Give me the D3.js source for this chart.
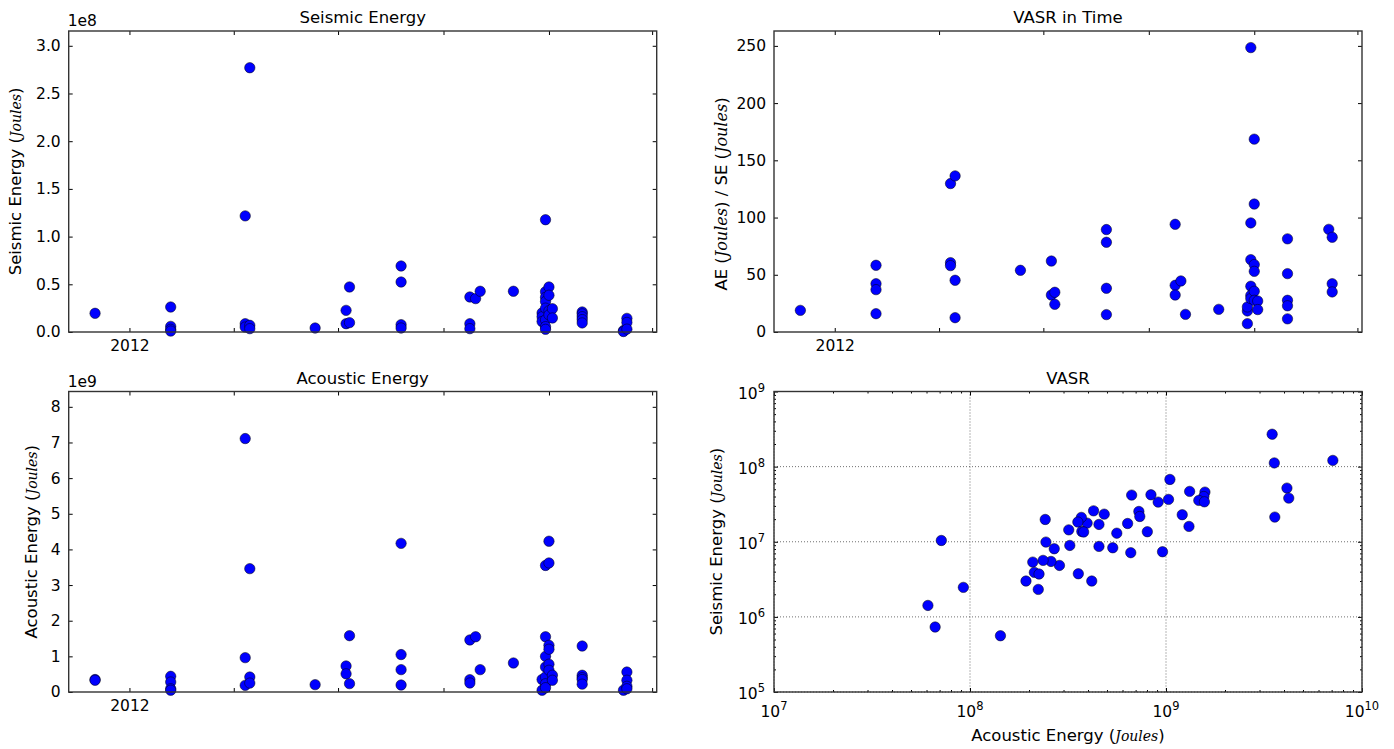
<!DOCTYPE html>
<meta charset="utf-8">
<script src="https://cdn.jsdelivr.net/npm/d3@7/dist/d3.min.js"></script>
<style>
  body { margin: 0; background: #fff; }
  svg text { font-family: "DejaVu Sans", sans-serif; fill: #000; }
</style>
<svg width="1394" height="749"></svg>
<script>
// ---- data ----
// x ticks of the date axes (only the first one carries a label)
var dateTicks = ["2012-01-01", "2012-04-01", "2012-07-01", "2012-10-01", "2013-01-01", "2013-04-01"];
var dateTickLabels = ["2012", "", "", "", "", ""];

// Seismic Energy (J) per event date
var seismicEnergy = [
  ["2011-12-02", 1.96e7],
  ["2012-02-06", 2.62e7], ["2012-02-06", 5.9e6], ["2012-02-06", 2.8e6], ["2012-02-06", 1.0e6],
  ["2012-04-11", 1.217e8], ["2012-04-11", 8.7e6], ["2012-04-11", 5.2e6],
  ["2012-04-15", 2.77e8], ["2012-04-15", 7.0e6], ["2012-04-15", 3.5e6],
  ["2012-06-11", 4.2e6],
  ["2012-07-08", 2.27e7], ["2012-07-08", 8.7e6],
  ["2012-07-11", 4.72e7], ["2012-07-11", 9.8e6],
  ["2012-08-25", 6.92e7], ["2012-08-25", 5.24e7], ["2012-08-25", 7.7e6], ["2012-08-25", 4.2e6],
  ["2012-10-24", 3.67e7], ["2012-10-24", 8.7e6], ["2012-10-24", 3.5e6],
  ["2012-10-29", 3.5e7],
  ["2012-11-02", 4.27e7],
  ["2012-12-01", 4.27e7],
  ["2012-12-26", 2.0e7], ["2012-12-26", 1.6e7], ["2012-12-26", 1.1e7],
  ["2012-12-29", 1.177e8], ["2012-12-29", 4.22e7], ["2012-12-29", 3.64e7], ["2012-12-29", 3.2e7],
  ["2012-12-29", 2.5e7], ["2012-12-29", 1.27e7], ["2012-12-29", 5.6e6], ["2012-12-29", 2.8e6],
  ["2013-01-01", 4.72e7], ["2013-01-01", 3.85e7], ["2013-01-01", 2.23e7], ["2013-01-01", 1.8e7],
  ["2013-01-04", 2.44e7], ["2013-01-04", 1.47e7],
  ["2013-01-30", 2.1e7], ["2013-01-30", 1.9e7], ["2013-01-30", 1.6e7], ["2013-01-30", 1.3e7], ["2013-01-30", 9.5e6],
  ["2013-03-07", 1.5e6], ["2013-03-07", 5e5],
  ["2013-03-10", 1.43e7], ["2013-03-10", 1.0e7], ["2013-03-10", 3e6]
];
var seismicTicks = [0, 0.5e8, 1.0e8, 1.5e8, 2.0e8, 2.5e8, 3.0e8];
var seismicTickLabels = ["0.0", "0.5", "1.0", "1.5", "2.0", "2.5", "3.0"];

// Acoustic Energy (J) per event date
var acousticEnergy = [
  ["2011-12-02", 3.5e8], ["2011-12-02", 3.3e8],
  ["2012-02-06", 4.4e8], ["2012-02-06", 2.8e8], ["2012-02-06", 9e7], ["2012-02-06", 5e7],
  ["2012-04-11", 7.11e9], ["2012-04-11", 9.63e8], ["2012-04-11", 1.87e8],
  ["2012-04-15", 3.46e9], ["2012-04-15", 4.2e8], ["2012-04-15", 2.5e8],
  ["2012-06-11", 2.06e8],
  ["2012-07-08", 7.3e8], ["2012-07-08", 5.1e8],
  ["2012-07-11", 1.58e9], ["2012-07-11", 2.34e8],
  ["2012-08-25", 4.17e9], ["2012-08-25", 1.05e9], ["2012-08-25", 6.27e8], ["2012-08-25", 1.96e8],
  ["2012-10-24", 1.46e9], ["2012-10-24", 3.46e8], ["2012-10-24", 2.53e8],
  ["2012-10-29", 1.55e9],
  ["2012-11-02", 6.27e8],
  ["2012-12-01", 8.14e8],
  ["2012-12-26", 3.5e8], ["2012-12-26", 5e7],
  ["2012-12-29", 3.55e9], ["2012-12-29", 1.55e9], ["2012-12-29", 1.0e9], ["2012-12-29", 7.0e8],
  ["2012-12-29", 4.2e8], ["2012-12-29", 2.3e8], ["2012-12-29", 1.2e8],
  ["2013-01-01", 4.23e9], ["2013-01-01", 3.62e9], ["2013-01-01", 1.31e9], ["2013-01-01", 1.2e9],
  ["2013-01-01", 7.8e8], ["2013-01-01", 6.1e8],
  ["2013-01-04", 4.7e8], ["2013-01-04", 3.3e8],
  ["2013-01-30", 1.29e9], ["2013-01-30", 4.7e8], ["2013-01-30", 4.0e8], ["2013-01-30", 3.5e8], ["2013-01-30", 2.2e8],
  ["2013-03-07", 5e7],
  ["2013-03-10", 5.6e8], ["2013-03-10", 3.3e8], ["2013-03-10", 1.6e8], ["2013-03-10", 9e7]
];
var acousticTicks = [0, 1e9, 2e9, 3e9, 4e9, 5e9, 6e9, 7e9, 8e9];
var acousticTickLabels = ["0", "1", "2", "3", "4", "5", "6", "7", "8"];

// VASR = AE / SE per event date
var vasrTime = [
  ["2011-12-02", 18.9],
  ["2012-02-06", 58.3], ["2012-02-06", 42.2], ["2012-02-06", 37], ["2012-02-06", 16],
  ["2012-04-11", 129.7], ["2012-04-11", 60.6], ["2012-04-11", 58],
  ["2012-04-15", 136.4], ["2012-04-15", 45.2], ["2012-04-15", 12.5],
  ["2012-06-11", 53.9],
  ["2012-07-08", 62], ["2012-07-08", 32.3],
  ["2012-07-11", 34.7], ["2012-07-11", 24.2],
  ["2012-08-25", 89.5], ["2012-08-25", 78.4], ["2012-08-25", 38.2], ["2012-08-25", 15.2],
  ["2012-10-24", 94.1], ["2012-10-24", 40.8], ["2012-10-24", 32.3],
  ["2012-10-29", 44.6],
  ["2012-11-02", 15.4],
  ["2012-12-01", 19.8],
  ["2012-12-26", 7.3], ["2012-12-26", 18.4], ["2012-12-26", 21.9],
  ["2012-12-29", 248.5], ["2012-12-29", 95.3], ["2012-12-29", 63.2], ["2012-12-29", 40],
  ["2012-12-29", 32], ["2012-12-29", 29.2],
  ["2013-01-01", 168.5], ["2013-01-01", 111.8], ["2013-01-01", 58.9], ["2013-01-01", 53],
  ["2013-01-01", 35.6], ["2013-01-01", 27.7],
  ["2013-01-04", 27.1], ["2013-01-04", 19.6],
  ["2013-01-30", 81.4], ["2013-01-30", 51], ["2013-01-30", 27.7], ["2013-01-30", 22.9], ["2013-01-30", 11.5],
  ["2013-03-07", 89.7],
  ["2013-03-10", 82.8], ["2013-03-10", 42.2], ["2013-03-10", 35]
];
var vasrTicks = [0, 50, 100, 150, 200, 250];

// VASR scatter: [acoustic energy, seismic energy] in J
var vasrPairs = [
  [3.48e9, 2.7e8], [3.57e9, 1.12e8], [7.1e9, 1.21e8], [4.14e9, 5.18e7], [4.23e9, 3.81e7], [3.59e9, 2.13e7],
  [1.047e9, 6.75e7], [1.03e9, 3.66e7], [1.32e9, 4.68e7], [1.58e9, 4.58e7], [1.56e9, 4.0e7], [1.47e9, 3.55e7],
  [1.57e9, 3.4e7], [1.21e9, 2.29e7], [1.31e9, 1.6e7], [9.6e8, 7.36e6], [9.12e8, 3.37e7], [8.38e8, 4.22e7],
  [6.68e8, 4.18e7], [7.27e8, 2.53e7], [7.35e8, 2.17e7], [6.37e8, 1.75e7], [8.03e8, 1.36e7], [6.61e8, 7.15e6],
  [5.35e8, 8.32e6], [5.61e8, 1.3e7], [4.84e8, 2.33e7], [4.27e8, 2.58e7], [4.55e8, 1.7e7], [4.55e8, 8.67e6],
  [3.96e8, 1.77e7], [3.7e8, 2.11e7], [3.55e8, 1.83e7], [3.72e8, 1.37e7], [3.8e8, 1.35e7], [3.19e8, 1.44e7],
  [3.23e8, 8.93e6], [3.57e8, 3.75e6], [4.18e8, 3.0e6], [2.42e8, 1.98e7], [2.44e8, 9.9e6], [2.69e8, 8.07e6],
  [2.86e8, 4.84e6], [2.59e8, 5.47e6], [2.36e8, 5.65e6], [2.09e8, 5.36e6], [2.13e8, 3.91e6], [2.25e8, 3.72e6],
  [1.93e8, 3.0e6], [2.23e8, 2.32e6], [9.25e7, 2.47e6], [7.14e7, 1.04e7], [6.1e7, 1.42e6], [6.64e7, 7.33e5],
  [1.43e8, 5.61e5]
];
var logXTicks = [1e7, 1e8, 1e9, 1e10];
var logYTicks = [1e5, 1e6, 1e7, 1e8, 1e9];

// ---- layout ----
var svg = d3.select("svg");
var parseDate = d3.timeParse("%Y-%m-%d");
var tickFont = 15.5,
  labelFont = 16.5,
  mathFont = 14;

var panels = {
  tl: { x0: 68.7, x1: 656.7, y0: 31, y1: 332 },
  tr: { x0: 774, x1: 1362, y0: 31, y1: 332 },
  bl: { x0: 68.7, x1: 656.7, y0: 391.5, y1: 692 },
  br: { x0: 774, x1: 1362, y0: 391.5, y1: 692 }
};

function styleAxis(g) {
  g.select(".domain").remove();
  g.selectAll("line").attr("stroke", "#000").attr("stroke-width", 1);
  g.selectAll("text").attr("font-size", tickFont).attr("font-family", "DejaVu Sans");
  g.attr("font-size", null).attr("font-family", null);
}

function frame(p) {
  svg.append("rect")
    .attr("x", p.x0).attr("y", p.y0)
    .attr("width", p.x1 - p.x0).attr("height", p.y1 - p.y0)
    .attr("fill", "none").attr("stroke", "#333").attr("stroke-width", 1.4);
}

function title(p, t) {
  svg.append("text")
    .attr("x", (p.x0 + p.x1) / 2).attr("y", p.y0 - 8)
    .attr("text-anchor", "middle").attr("font-size", labelFont)
    .text(t);
}

// label made of plain and math-italic pieces
function richText(sel, parts, mSize) {
  parts.forEach(function(part) {
    var ts = sel.append("tspan").text(part[0]);
    if (part[1]) ts.attr("font-family", "DejaVu Serif").attr("font-style", "italic").attr("font-size", mSize || mathFont);
  });
}

function ylabel(p, x, parts, cy, mSize) {
  var t = svg.append("text")
    .attr("transform", "translate(" + x + "," + (cy || (p.y0 + p.y1) / 2) + ") rotate(-90)")
    .attr("text-anchor", "middle").attr("font-size", labelFont);
  richText(t, parts, mSize);
}

function dots(g, data, fx, fy) {
  g.selectAll("circle")
    .data(data)
    .enter()
    .append("circle")
    .attr("cx", fx)
    .attr("cy", fy)
    .attr("r", 5.2)
    .attr("fill", "#0000ff")
    .attr("stroke", "#000")
    .attr("stroke-width", 0.5);
}

function timePanel(p, data, yMax, yTicks, yLabels, name, label, offset) {
  var x = d3.scaleTime()
    .domain([parseDate("2011-11-09"), parseDate("2013-04-05")])
    .range([p.x0, p.x1]);
  var y = d3.scaleLinear().domain([0, yMax]).range([p.y1, p.y0]);
  var tickDates = dateTicks.map(parseDate);

  //bottom / top ticks
  svg.append("g")
    .attr("transform", "translate(0," + p.y1 + ")")
    .call(d3.axisBottom(x).tickValues(tickDates).tickSize(-4).tickSizeOuter(0).tickPadding(8)
      .tickFormat(function(d, i) { return dateTickLabels[i]; }))
    .call(styleAxis);
  svg.append("g")
    .attr("transform", "translate(0," + p.y0 + ")")
    .call(d3.axisTop(x).tickValues(tickDates).tickSize(-4).tickSizeOuter(0).tickFormat(""))
    .call(styleAxis);

  //left / right ticks
  svg.append("g")
    .attr("transform", "translate(" + p.x0 + ",0)")
    .call(d3.axisLeft(y).tickValues(yTicks).tickSize(-4).tickSizeOuter(0).tickPadding(8)
      .tickFormat(function(d, i) { return yLabels[i]; }))
    .call(styleAxis);
  svg.append("g")
    .attr("transform", "translate(" + p.x1 + ",0)")
    .call(d3.axisRight(y).tickValues(yTicks).tickSize(-4).tickSizeOuter(0).tickFormat(""))
    .call(styleAxis);

  var g = svg.append("g");
  dots(g, data, function(d) { return x(parseDate(d[0])); }, function(d) { return y(d[1]); });

  frame(p);
  title(p, name);
  ylabel(p, label.x, label.parts, label.cy, label.math);

  if (offset) {
    svg.append("text")
      .attr("x", p.x0 - 1).attr("y", p.y0 - 5)
      .attr("font-size", tickFont)
      .text(offset);
  }
}

timePanel(panels.tl, seismicEnergy, 3.155e8, seismicTicks, seismicTickLabels, "Seismic Energy",
  { x: 21, parts: [["Seismic Energy (", false], ["Joules", true], [")", false]] }, "1e8");
timePanel(panels.tr, vasrTime, 263, vasrTicks, vasrTicks.map(String), "VASR in Time",
  { x: 727, cy: 194, math: 16,
    parts: [["AE (", false], ["Joules", true], [") / SE (", false], ["Joules", true], [")", false]] }, null);
timePanel(panels.bl, acousticEnergy, 8.43e9, acousticTicks, acousticTickLabels, "Acoustic Energy",
  { x: 37, parts: [["Acoustic Energy (", false], ["Joules", true], [")", false]] }, "1e9");

// ---- log-log VASR panel ----
(function() {
  var p = panels.br;
  var x = d3.scaleLog().domain([1e7, 1e10]).range([p.x0, p.x1]);
  var y = d3.scaleLog().domain([1e5, 1e9]).range([p.y1, p.y0]);

  function minors(ticks) {
    var out = [];
    for (var i = 0; i < ticks.length - 1; i++)
      for (var k = 2; k < 10; k++) out.push(ticks[i] * k);
    return out;
  }

  //grid
  var grid = svg.append("g").attr("stroke", "#000").attr("stroke-width", 0.7)
    .attr("stroke-dasharray", "1,2").attr("opacity", 0.8);
  grid.selectAll(".gx").data(logXTicks).enter().append("line")
    .attr("x1", function(d) { return x(d); }).attr("x2", function(d) { return x(d); })
    .attr("y1", p.y0).attr("y2", p.y1);
  grid.selectAll(".gy").data(logYTicks).enter().append("line")
    .attr("y1", function(d) { return y(d); }).attr("y2", function(d) { return y(d); })
    .attr("x1", p.x0).attr("x2", p.x1);

  //major ticks, all sides
  svg.append("g").attr("transform", "translate(0," + p.y1 + ")")
    .call(d3.axisBottom(x).tickValues(logXTicks).tickSize(-4).tickSizeOuter(0).tickFormat(""))
    .call(styleAxis);
  svg.append("g").attr("transform", "translate(0," + p.y0 + ")")
    .call(d3.axisTop(x).tickValues(logXTicks).tickSize(-4).tickSizeOuter(0).tickFormat(""))
    .call(styleAxis);
  svg.append("g").attr("transform", "translate(" + p.x0 + ",0)")
    .call(d3.axisLeft(y).tickValues(logYTicks).tickSize(-4).tickSizeOuter(0).tickFormat(""))
    .call(styleAxis);
  svg.append("g").attr("transform", "translate(" + p.x1 + ",0)")
    .call(d3.axisRight(y).tickValues(logYTicks).tickSize(-4).tickSizeOuter(0).tickFormat(""))
    .call(styleAxis);

  //minor ticks
  svg.append("g").attr("transform", "translate(0," + p.y1 + ")")
    .call(d3.axisBottom(x).tickValues(minors(logXTicks)).tickSize(-2).tickSizeOuter(0).tickFormat(""))
    .call(styleAxis);
  svg.append("g").attr("transform", "translate(0," + p.y0 + ")")
    .call(d3.axisTop(x).tickValues(minors(logXTicks)).tickSize(-2).tickSizeOuter(0).tickFormat(""))
    .call(styleAxis);
  svg.append("g").attr("transform", "translate(" + p.x0 + ",0)")
    .call(d3.axisLeft(y).tickValues(minors(logYTicks)).tickSize(-2).tickSizeOuter(0).tickFormat(""))
    .call(styleAxis);
  svg.append("g").attr("transform", "translate(" + p.x1 + ",0)")
    .call(d3.axisRight(y).tickValues(minors(logYTicks)).tickSize(-2).tickSizeOuter(0).tickFormat(""))
    .call(styleAxis);

  //10^n labels
  logXTicks.forEach(function(d) {
    var t = svg.append("text").attr("x", x(d)).attr("y", p.y1 + 25)
      .attr("text-anchor", "middle").attr("font-size", tickFont);
    t.append("tspan").text("10");
    t.append("tspan").attr("dy", -7).attr("font-size", 11.5).text(Math.round(Math.log10(d)));
  });
  logYTicks.forEach(function(d) {
    var t = svg.append("text").attr("x", p.x0 - 9).attr("y", y(d) + 7)
      .attr("text-anchor", "end").attr("font-size", tickFont);
    t.append("tspan").text("10");
    t.append("tspan").attr("dy", -7).attr("font-size", 11.5).text(Math.round(Math.log10(d)));
  });

  var g = svg.append("g");
  dots(g, vasrPairs, function(d) { return x(d[0]); }, function(d) { return y(d[1]); });

  frame(p);
  title(p, "VASR");
  ylabel(p, 722, [["Seismic Energy (", false], ["Joules", true], [")", false]]);

  var xl = svg.append("text")
    .attr("x", (p.x0 + p.x1) / 2).attr("y", 741)
    .attr("text-anchor", "middle").attr("font-size", labelFont);
  richText(xl, [["Acoustic Energy (", false], ["Joules", true], [")", false]]);
})();
</script>
